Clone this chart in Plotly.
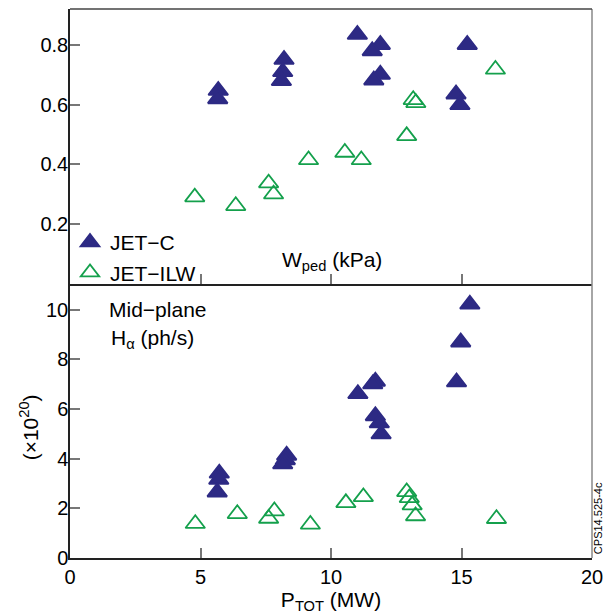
import plotly.graph_objects as go

# ---------------- data ----------------
# Top panel: pedestal pressure W_ped (kPa) vs P_TOT (MW)
wped_jetc_p = [5.68, 5.66, 8.20, 8.15, 8.10, 11.01, 11.89, 11.58, 11.89, 11.64, 15.22, 14.79, 14.94]
wped_jetc_w = [0.648, 0.620, 0.752, 0.711, 0.681, 0.836, 0.802, 0.781, 0.702, 0.683, 0.802, 0.636, 0.600]

wped_ilw_p = [4.78, 6.35, 7.61, 7.80, 9.14, 10.53, 11.16, 12.90, 13.15, 13.25, 16.30]
wped_ilw_w = [0.290, 0.261, 0.337, 0.300, 0.415, 0.440, 0.415, 0.496, 0.617, 0.607, 0.719]

# Bottom panel: mid-plane H-alpha (x1e20 ph/s) vs P_TOT (MW)
ha_jetc_p = [5.72, 5.70, 5.64, 8.30, 8.25, 8.15, 15.32, 14.97, 14.81, 11.03, 11.70, 11.60, 11.70, 11.85, 11.92]
ha_jetc_h = [3.41, 3.16, 2.65, 4.13, 3.95, 3.78, 10.21, 8.69, 7.08, 6.61, 7.11, 7.00, 5.72, 5.43, 4.99]

ha_ilw_p = [4.80, 6.41, 7.61, 7.83, 9.21, 10.57, 11.24, 12.90, 13.00, 13.11, 13.24, 16.34]
ha_ilw_h = [1.38, 1.78, 1.59, 1.89, 1.35, 2.22, 2.46, 2.66, 2.42, 2.13, 1.69, 1.58]

x_ticks = [0, 5, 10, 15, 20]
top_y_ticks = [0.2, 0.4, 0.6, 0.8]
bot_y_ticks = [0, 2, 4, 6, 8, 10]

NAVY = "#2D2A84"
GREEN = "#14A04C"
FONT = "Liberation Sans, Arial, sans-serif"

fig = go.Figure()

filled = dict(symbol="triangle-up", size=17, color=NAVY, line=dict(color=NAVY, width=2))
opened = dict(symbol="triangle-up-open", size=17, color=GREEN, line=dict(color=GREEN, width=1.8))

fig.add_trace(go.Scatter(x=wped_jetc_p, y=wped_jetc_w, mode="markers", marker=filled,
                         name="JET\u2212C", xaxis="x2", yaxis="y2", showlegend=True))
fig.add_trace(go.Scatter(x=wped_ilw_p, y=wped_ilw_w, mode="markers", marker=opened,
                         name="JET\u2212ILW", xaxis="x2", yaxis="y2", showlegend=True))
fig.add_trace(go.Scatter(x=ha_jetc_p, y=ha_jetc_h, mode="markers", marker=filled,
                         name="JET\u2212C", xaxis="x", yaxis="y", showlegend=False))
fig.add_trace(go.Scatter(x=ha_ilw_p, y=ha_ilw_h, mode="markers", marker=opened,
                         name="JET\u2212ILW", xaxis="x", yaxis="y", showlegend=False))

axis_common = dict(showgrid=False, zeroline=False, ticks="inside", ticklen=10,
                   tickcolor="#777777", tickwidth=1.5, showline=True, linecolor="#222222",
                   linewidth=1.5, tickfont=dict(family=FONT, size=20, color="black"))

fig.update_layout(
    width=612, height=615,
    margin=dict(l=70, r=12, t=9, b=54),
    paper_bgcolor="white", plot_bgcolor="white",
    font=dict(family=FONT, size=21, color="black"),
    xaxis=dict(axis_common, domain=[0, 1], range=[0, 20], tickvals=x_ticks, anchor="y",
               title=dict(text="P<sub>TOT</sub> (MW)", font=dict(size=21), standoff=4)),
    yaxis=dict(axis_common, domain=[0, 0.5], range=[0, 11.05], tickvals=bot_y_ticks, anchor="x",
               ticklabelstandoff=-4),
    xaxis2=dict(axis_common, domain=[0, 1], range=[0, 20], tickvals=[5, 10, 15],
                showticklabels=False, anchor="y2", matches="x"),
    yaxis2=dict(axis_common, domain=[0.5, 1], range=[0, 0.922], tickvals=top_y_ticks,
                tickformat=".1f", anchor="x2", ticklabelstandoff=-4),
    legend=dict(x=0, xanchor="left", y=0.612, yanchor="top", bgcolor="rgba(0,0,0,0)",
                font=dict(family=FONT, size=21), tracegroupgap=0, itemsizing="trace"),
    showlegend=True,
)

# frame edges (right side lighter, top darker)
fig.add_shape(type="line", xref="paper", yref="paper", x0=1, x1=1, y0=0, y1=1,
              line=dict(color="#888888", width=1.5))
fig.add_shape(type="line", xref="paper", yref="paper", x0=0, x1=1, y0=1, y1=1,
              line=dict(color="#444444", width=1.5))

ann = [
    dict(text="W<sub>ped</sub> (kPa)", x=0.502, y=(561 - 262) / 552, xanchor="center", yanchor="middle"),
    dict(text="Mid\u2212plane", x=(108 - 70) / 530, y=(561 - 311.5) / 552, xanchor="left", yanchor="middle"),
    dict(text="H<sub>\u03b1</sub> (ph/s)", x=(110 - 70) / 530, y=(561 - 341) / 552, xanchor="left", yanchor="middle"),
    dict(text="(\u00d710<sup>20</sup>)", x=(28 - 70) / 530, y=(561 - 430) / 552, xanchor="center",
         yanchor="middle", textangle=-90),
    dict(text="CPS14.525-4c", x=(606 - 70) / 530, y=(561 - 521) / 552, xanchor="center",
         yanchor="middle", textangle=-90, font=dict(size=11, family=FONT)),
]
for a in ann:
    a.setdefault("font", dict(size=21, family=FONT, color="black"))
    fig.add_annotation(xref="paper", yref="paper", showarrow=False, **a)

fig.write_html("out.html", config={"displayModeBar": False},
               post_script="document.body.style.margin='0';")
